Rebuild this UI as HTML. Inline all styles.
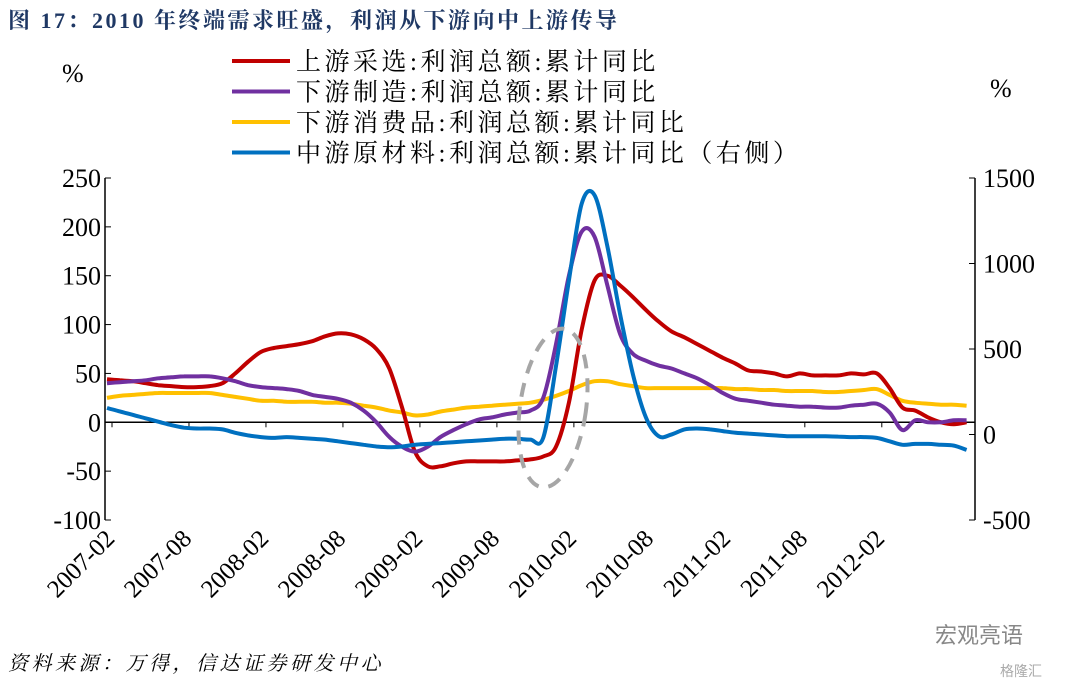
<!DOCTYPE html>
<html><head><meta charset="utf-8">
<style>
body{margin:0;background:#fff;}
svg{display:block;}
.ax{font-family:"Liberation Serif","Noto Serif CJK SC",serif;font-size:26px;fill:#000;}
.xl{font-family:"Liberation Serif","Noto Serif CJK SC",serif;font-size:25px;fill:#000;}
.lg{font-family:"Liberation Serif","Noto Serif CJK SC",serif;font-size:25px;letter-spacing:3.5px;fill:#000;}
</style></head>
<body>
<svg id="c" width="1080" height="682" xmlns="http://www.w3.org/2000/svg">
<text x="8" y="28" font-family="'Liberation Serif','Noto Serif CJK SC',serif" font-size="22" font-weight="bold" letter-spacing="2.5" fill="#1f3864">图 17：2010 年终端需求旺盛，利润从下游向中上游传导</text>
<text x="62" y="82" class="ax">%</text>
<text x="990" y="97" class="ax">%</text>
<g id="legend"></g>
<g id="axes"></g>
<g id="series"></g>
<ellipse cx="553" cy="408" rx="33" ry="80" transform="rotate(8 553 408)" fill="none" stroke="#a6a6a6" stroke-width="4" stroke-dasharray="14,10"/>
<text x="8" y="670" font-family="'Liberation Serif','Noto Serif CJK SC',serif" font-size="20" font-style="italic" letter-spacing="3.5" fill="#000">资料来源：万得，信达证券研发中心</text>
<text x="935" y="643" font-family="'Liberation Sans','Noto Sans CJK SC',sans-serif" font-size="22" fill="#888">宏观亮语</text>
<text x="1000" y="676" font-family="'Liberation Sans','Noto Sans CJK SC',sans-serif" font-size="14" fill="#aaa">格隆汇</text>
</svg>
<script>
const months=["2007-02","2007-08","2008-02","2008-08","2009-02","2009-08","2010-02","2010-08","2011-02","2011-08","2012-02"];
const leftTicks=[250,200,150,100,50,0,-50,-100];
const rightTicks=[1500,1000,500,0,-500];
const seriesNames=["上游采选:利润总额:累计同比","下游制造:利润总额:累计同比","下游消费品:利润总额:累计同比","中游原材料:利润总额:累计同比（右侧）"];
const upstream=[44,43,42,40,38,37,36,36,37,40,50,62,72,76,78,80,83,88,91,90,85,75,55,15,-30,-45,-45,-42,-40,-40,-40,-40,-39,-38,-35,-25,20,95,145,150,140,128,115,103,93,87,80,73,66,60,53,52,50,47,50,48,48,48,50,49,50,35,15,12,5,0,-2,0];
const downMfg=[40,41,42,43,45,46,47,47,47,45,42,38,36,35,34,32,28,26,24,20,12,0,-15,-25,-30,-25,-15,-8,-2,3,5,8,10,12,25,80,150,195,190,140,90,70,63,58,55,50,45,38,30,24,22,20,18,17,16,16,15,15,17,18,19,10,-8,2,0,0,2,2];
const downCons=[25,27,28,29,30,30,30,30,30,28,26,24,22,22,21,21,21,20,20,19,17,15,12,10,7,8,11,13,15,16,17,18,19,20,23,27,32,38,42,42,39,37,35,35,35,35,35,35,35,34,34,33,33,32,32,32,31,31,32,33,34,28,22,20,19,18,18,17];
const midRaw=[155,135,115,95,75,55,40,35,35,30,10,-5,-15,-20,-15,-20,-25,-30,-40,-50,-60,-70,-75,-70,-60,-55,-50,-45,-40,-35,-30,-25,-25,-30,-20,400,900,1350,1400,1100,700,350,100,-10,0,30,35,30,20,10,5,0,-5,-10,-10,-10,-10,-12,-15,-15,-20,-40,-60,-55,-55,-60,-65,-90];
const colors=["#c00000","#7030a0","#ffc000","#0070c0"];
const NS="http://www.w3.org/2000/svg";
const X0=112,DX=12.83,L=105,R=975,T=178,B=520;
const x=i=>X0+DX*i;
const xd=i=>Math.min(R-3,X0-5+DX*i);
const yL=v=>T+(250-v)*(B-T)/350;
const yR=v=>T+(1500-v)*(B-T)/2000;
function mk(tag,attrs,parent){const e=document.createElementNS(NS,tag);for(const k in attrs)e.setAttribute(k,attrs[k]);parent.appendChild(e);return e;}
function smooth(pts){let d='M'+pts[0][0].toFixed(1)+','+pts[0][1].toFixed(1);for(let i=0;i<pts.length-1;i++){const p0=pts[i-1]||pts[i],p1=pts[i],p2=pts[i+1],p3=pts[i+2]||p2;const c1=[p1[0]+(p2[0]-p0[0])/6,p1[1]+(p2[1]-p0[1])/6],c2=[p2[0]-(p3[0]-p1[0])/6,p2[1]-(p3[1]-p1[1])/6];d+=`C${c1[0].toFixed(1)},${c1[1].toFixed(1)} ${c2[0].toFixed(1)},${c2[1].toFixed(1)} ${p2[0].toFixed(1)},${p2[1].toFixed(1)}`;}return d;}
const axes=document.getElementById('axes');
let e=mk('line',{x1:L,y1:T,x2:L,y2:B,stroke:'#000','stroke-width':1.5},axes);


e=mk('line',{x1:R,y1:T,x2:R,y2:B,stroke:'#000','stroke-width':1.5},axes);


e=mk('line',{x1:L,y1:yL(0),x2:R,y2:yL(0),stroke:'#000','stroke-width':1.5},axes);


leftTicks.forEach(v=>{
 mk('line',{x1:L,y1:yL(v),x2:L+6,y2:yL(v),stroke:'#000'},axes);
 const t=mk('text',{x:L-4,y:yL(v)+9,'text-anchor':'end',class:'ax'},axes);t.textContent=v;
 
 
});
rightTicks.forEach(v=>{
 mk('line',{x1:R,y1:yR(v),x2:R-6,y2:yR(v),stroke:'#000'},axes);
 const t=mk('text',{x:R+8,y:yR(v)+9,'text-anchor':'start',class:'ax'},axes);t.textContent=v;
 
 
});
months.forEach((m,k)=>{
 const xx=x(k*6)+4;
 mk('line',{x1:xx-4,y1:yL(0),x2:xx-4,y2:yL(0)+5,stroke:'#000'},axes);
 const t=mk('text',{x:xx,y:540,'text-anchor':'end',class:'xl',transform:`rotate(-45 ${xx} 540)`},axes);t.textContent=m;
 
 
});
const sg=document.getElementById('series');
const all=[[upstream,yL],[downMfg,yL],[downCons,yL],[midRaw,yR]];
const order=[2,0,1,3];
order.forEach(s=>{
 const [d,f]=all[s];
 const p=mk('path',{d:smooth(d.map((v,i)=>[xd(i),f(v)])),fill:'none',stroke:colors[s],'stroke-width':4,'stroke-linejoin':'round'},sg);
 
 
});
const lg=document.getElementById('legend');
seriesNames.forEach((n,i)=>{
 const yy=61+i*30.5;
 const l=mk('line',{x1:232,y1:yy,x2:290,y2:yy,stroke:colors[i],'stroke-width':4},lg);
 
 
 const t=mk('text',{x:296,y:yy+9,class:'lg'},lg);t.textContent=n;
 
 
});
</script>
</body></html>
